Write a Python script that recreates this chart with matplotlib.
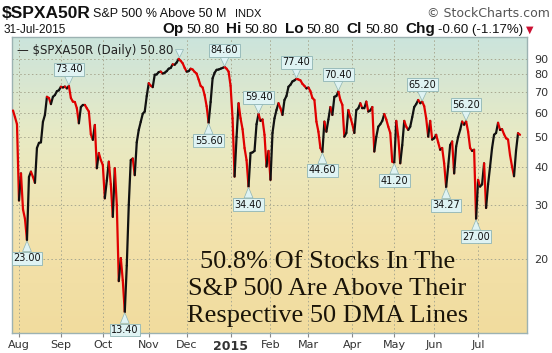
import numpy as np
import pandas as pd
import matplotlib
matplotlib.use('Agg')
import matplotlib.pyplot as plt
from matplotlib.collections import LineCollection
from matplotlib.colors import LinearSegmentedColormap
import matplotlib.transforms as mtransforms
import matplotlib.ticker as mticker

# ---------------- data ----------------
start_date = '2014-07-29'
end_date = '2015-07-31'
holidays = ['2014-09-01', '2014-11-27', '2014-12-25', '2015-01-01', '2015-01-19',
            '2015-02-16', '2015-04-03', '2015-05-25', '2015-07-03']

values = [
    61, 58, 55, 31, 38, 29, 27, 23.0, 37, 38.5,
    37, 35.4, 46, 47.8, 48, 56, 59, 67.6, 67, 64,
    67.6, 68.5, 70.5, 71, 72.9, 72.5, 73, 72, 73.4, 67,
    65.2, 65, 62, 55.4, 62.6, 63.6, 63.6, 62, 60.5, 51,
    48.9, 54.7, 39.5, 44.3, 42, 40.5, 31.5, 36, 41.5, 35,
    27.4, 39.5, 30, 16.9, 20.1, 17, 13.4, 19, 30, 42,
    42.5, 37.5, 48, 52.7, 56, 59.5, 60.5, 68, 74.9, 73.5,
    72.7, 79.8, 80, 81.4, 81.7, 80.5, 81, 82, 83.5, 84,
    86.3, 86, 87.5, 89.9, 88.6, 87, 84, 81.7, 82, 83.5,
    83, 81.5, 80.5, 77, 73.4, 72.5, 68.5, 63, 55.6, 65,
    77.7, 81, 82.8, 83, 83.5, 84, 84.6, 83.5, 81.7, 73.4,
    57.5, 37.1, 50, 64.4, 57.5, 53, 46, 42, 34.4, 44.3,
    44.5, 45, 55, 59.4, 56.4, 57, 50.8, 40, 45, 36.2,
    51.5, 57.5, 61.2, 64.4, 62, 59, 66, 68, 72.9, 74,
    75.9, 76.5, 77.4, 77, 76.5, 74.5, 73.4, 72, 72.5, 70.5,
    67, 66, 56.1, 52, 46, 44.6, 56.1, 52, 57, 62.6,
    59, 67.6, 68, 70.4, 66, 63.6, 50.1, 51.5, 61.2, 58,
    55, 51.5, 61.2, 62, 64.4, 62, 62, 65.2, 60.5, 61,
    62.6, 44.8, 50, 54, 55, 56.4, 59.4, 57, 54, 51.5,
    41.5, 41.2, 56.4, 50, 41, 47, 56.4, 54, 52.7, 54,
    58, 62.6, 64, 66, 64.4, 65.2, 63, 57.5, 50.1, 56.4,
    49, 49.5, 50.8, 48, 45.4, 46, 41, 34.27, 40, 47,
    48.3, 38, 46.5, 50, 52.7, 56.1, 54.8, 56.2, 52, 46,
    45, 45.4, 27.0, 36.2, 34.4, 35, 41, 29.3, 35, 40,
    46, 50.8, 51.5, 55.6, 52.7, 53, 51, 49.5, 49, 43.6,
    40, 37.2, 45, 51.4, 50.8,
]

peak_idx = [28, 106, 123, 142, 163, 205, 227]
trough_idx = [7, 56, 98, 118, 155, 191, 217, 232]
hidden_peak_idx = 83

y_ticks = [20, 30, 40, 50, 60, 70, 80, 90]

title_sym = '$SPXA50R'
title_name = 'S&P 500 % Above 50 M'
title_exch = 'INDX'
date_str = '31-Jul-2015'
quote = [('Op', '50.80'), ('Hi', '50.80'), ('Lo', '50.80'), ('Cl', '50.80'), ('Chg', '-0.60 (-1.17%)')]
legend_txt = '$SPXA50R (Daily) 50.80'
big_text = '50.8% Of Stocks In The\nS&P 500 Are Above Their\nRespective 50 DMA Lines'

# ---------------- dates ----------------
days = pd.bdate_range(start_date, end_date)
days = days[~days.isin(pd.to_datetime(holidays))]
n = len(days)
vals = np.array(values[:n], dtype=float)
x = np.arange(n)

W, H = 552, 353
fig = plt.figure(figsize=(W / 100, H / 100), dpi=100)
fig.patch.set_facecolor('white')
ax = fig.add_axes([12 / W, 1 - 333 / H, 515 / W, 296 / H])
ax.set_yscale('log')
ax.set_xlim(-0.5, 257.5)
ax.set_ylim(11.44, 106)

# gradient background
cmap = LinearSegmentedColormap.from_list('bg', ['#f1dc9e', '#f3e2ac', '#e8eac4', '#cbe4dc'])
grad = np.linspace(0, 1, 256).reshape(-1, 1)
ax.imshow(grad, extent=[0, 1, 0, 1], transform=ax.transAxes, origin='lower',
          aspect='auto', cmap=cmap, zorder=0)

# grid
for yt in y_ticks:
    ax.axhline(yt, color='#a8a890', lw=0.7, ls=(0, (1.5, 2.5)), zorder=1)

month_first = []
prev = None
for i, d in enumerate(days):
    key = (d.year, d.month)
    if key != prev:
        if i > 0:
            month_first.append(i)
        prev = key
month_labels = []
for i in month_first:
    d = days[i]
    month_labels.append(str(d.year) if d.month == 1 else d.strftime('%b'))
for i in month_first:
    ax.axvline(i, color='#a8a890', lw=0.7, ls=(0, (1.5, 2.5)), zorder=1)

# line coloured by direction
pts = np.column_stack([x, vals])
segs = np.stack([pts[:-1], pts[1:]], axis=1)
cols = ['#111111' if b >= a else '#e00000' for a, b in zip(vals[:-1], vals[1:])]
lc = LineCollection(segs, colors=cols, linewidths=1.6, capstyle='round', joinstyle='round', zorder=3)
ax.add_collection(lc)

# labels
box_fc = '#dff3f3'
box_ec = '#8fb5b5'
def lab(i, up):
    v = vals[i]
    ax.annotate(f'{v:.2f}', xy=(i, v), xytext=(0, 12 if up else -13), textcoords='offset points',
                ha='center', va='center', fontsize=7, color='#111111', zorder=5,
                bbox=dict(boxstyle='square,pad=0.15', fc=box_fc, ec=box_ec, lw=0.6),
                arrowprops=dict(arrowstyle='wedge,tail_width=0.9', fc=box_fc, ec=box_ec, lw=0.5,
                                shrinkA=0, shrinkB=0.5))
for i in peak_idx:
    lab(i, True)
for i in trough_idx:
    lab(i, False)

# hidden peak pointer under legend
tr = mtransforms.offset_copy(ax.transData, fig=fig, x=0, y=4, units='points')
ax.plot([hidden_peak_idx], [vals[hidden_peak_idx]], marker='v', ms=6, color=box_fc,
        mec=box_ec, mew=0.5, transform=tr, zorder=4)

# axes styling
for s in ax.spines.values():
    s.set_color('#9cb2b2')
    s.set_linewidth(1.0)
ax.yaxis.tick_right()
ax.yaxis.set_major_locator(mticker.FixedLocator(y_ticks))
ax.yaxis.set_major_formatter(mticker.FixedFormatter([str(t) for t in y_ticks]))
ax.yaxis.set_minor_locator(mticker.NullLocator())
ax.tick_params(axis='y', length=0, pad=5, labelsize=8, labelcolor='#333333')
ax.set_xticks(month_first)
ax.set_xticklabels(month_labels)
ax.tick_params(axis='x', length=3, color='#888888', pad=2, labelsize=8, labelcolor='#333333')
for t, lbl in zip(ax.get_xticklabels(), month_labels):
    if lbl.isdigit():
        t.set_fontweight('bold')
        t.set_fontsize(9)

# legend
ax.text(0.01, 0.975, '\u2014 ' + legend_txt, transform=ax.transAxes, ha='left', va='top',
        fontsize=8.5, color='#222222', family='DejaVu Sans', zorder=6)

# big text
ax.text(0.612, 0.02, big_text, transform=ax.transAxes, ha='center', va='bottom',
        fontsize=19, family='Liberation Serif', color='#1a1408', linespacing=1.3, zorder=6)

# header
fig.text(2 / W, 1 - 18 / H, title_sym, fontsize=12.5, fontweight='bold', family='Liberation Sans',
         color='#111111', ha='left', va='baseline')
fig.text(93 / W, 1 - 17 / H, title_name, fontsize=9, family='Liberation Sans', color='#111111',
         ha='left', va='baseline')
fig.text(235 / W, 1 - 17 / H, title_exch, fontsize=8, family='Liberation Sans', color='#111111',
         ha='left', va='baseline')
fig.text(550 / W, 1 - 17 / H, '\u00a9 StockCharts.com', fontsize=9, family='DejaVu Sans',
         color='#555555', ha='right', va='baseline')
fig.text(4 / W, 1 - 33 / H, date_str, fontsize=8.5, family='Liberation Sans', color='#111111',
         ha='left', va='baseline')

# quote line placed piece by piece
fig.canvas.draw()
rend = fig.canvas.get_renderer()
xpos = 162
for k, (key, val) in enumerate(quote):
    t1 = fig.text(xpos / W, 1 - 33 / H, key, fontsize=11, fontweight='bold', family='Liberation Sans',
                  color='#111111', ha='left', va='baseline')
    xpos += t1.get_window_extent(rend).width + 3
    t2 = fig.text(xpos / W, 1 - 33 / H, val, fontsize=9.5, family='Liberation Sans',
                  color='#111111', ha='left', va='baseline')
    xpos += t2.get_window_extent(rend).width + 7
fig.text((xpos - 4) / W, 1 - 33 / H, '\u25bc', fontsize=7, family='DejaVu Sans', color='#cc1133',
         ha='left', va='baseline')

fig.savefig('out.png', dpi=100)
